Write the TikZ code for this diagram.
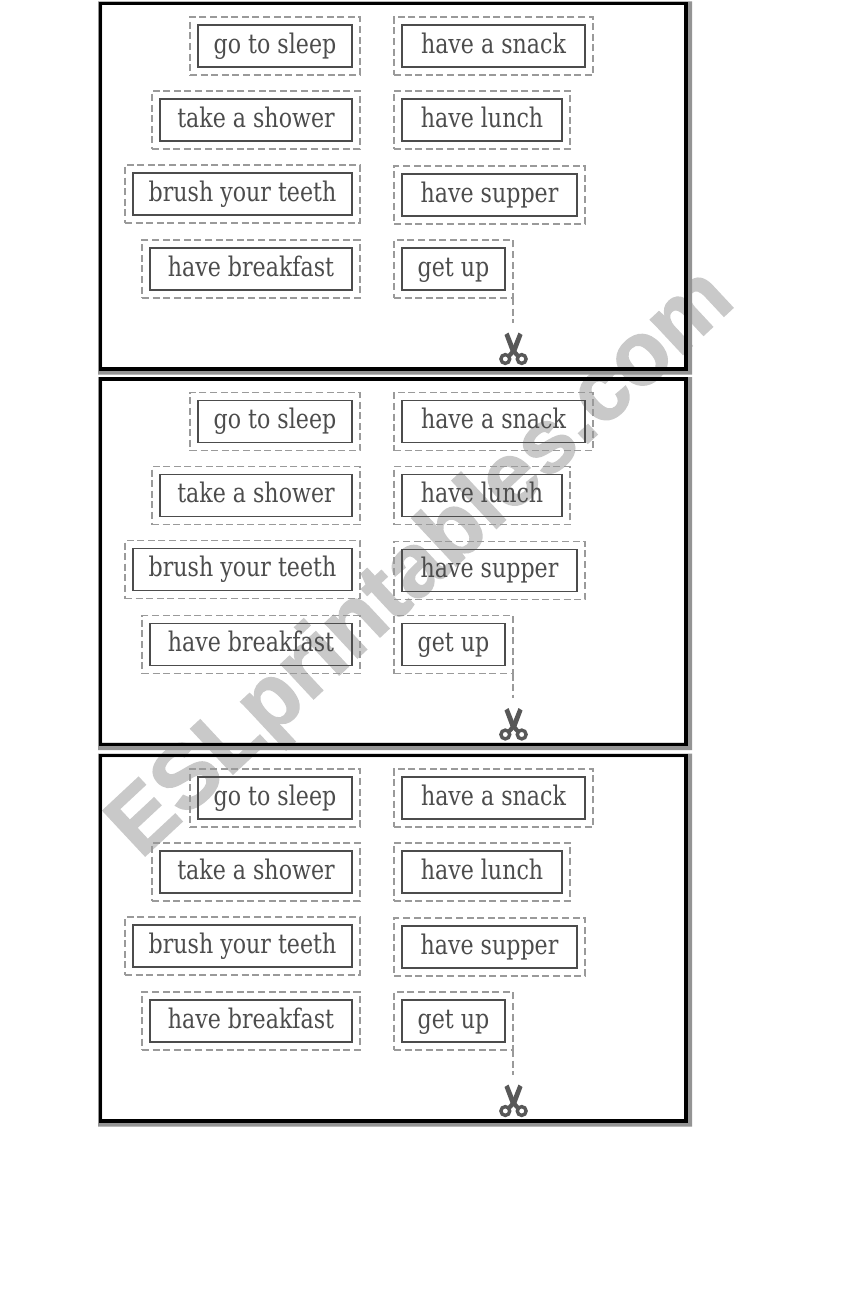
\documentclass[tikz,border=0pt]{standalone}
\usepackage{fontspec}
\setmainfont{DejaVu Serif}[FakeStretch=0.82]
\newfontfamily\wmfont{Liberation Sans Bold}[FakeBold=1.6]
\definecolor{ink}{HTML}{4C4C4C}
\definecolor{dashcol}{HTML}{9A9A9A}
\definecolor{wmark}{HTML}{C9C9C9}
\definecolor{scis}{HTML}{585858}
\tikzset{
  x=1pt,y=-1pt,
  framebox/.style={draw=black,line width=3.7pt},
  framehalo/.style={fill=black!42,even odd rule},
  cardbox/.style={draw=ink,line width=1.8pt,minimum height=42pt,inner sep=0pt,text=ink,font=\fontsize{27}{30}\selectfont,anchor=center},
  cutbox/.style={draw=dashcol,line width=1.6pt,dash pattern=on 7pt off 3.6pt,inner sep=0pt,outer sep=0pt,minimum height=58pt,anchor=center},
  cutline/.style={draw=dashcol,line width=1.6pt,dash pattern=on 7pt off 3.6pt},
  wmtext/.style={text=wmark,font=\wmfont\fontsize{90}{90}\selectfont,inner sep=0pt},
  scisblade/.style={fill=scis},
  scisring/.style={draw=scis,line width=3.4pt},
}
\newcommand{\cardpair}[5]{%
  \node[cutbox,minimum width={#3-#2+14pt}] (#1c) at ({(#2+#3)/2},{#4}) {};
  \node[cardbox,minimum width={#3-#2-2pt}] (#1) at ({(#2+#3)/2},{#4}) {\raisebox{-1pt}{\vphantom{hp}#5}};
}
\begin{document}
\begin{tikzpicture}
\useasboundingbox (0,0) rectangle (850,1300);
\fill[white] (0,0) rectangle (850,1300);
\node[wmtext,rotate=43] (wm) at (423,565) {ESLprintables.com};
\foreach \n/\dy in {a/0,b/375.5,c/752}{
  \begin{scope}[yshift={-\dy pt}]
    \coordinate (\n tl) at (100.5,3.5);
    \coordinate (\n br) at (686,369);
    \path[framehalo] (98,1.5) rectangle (692,374.5) (102,5) rectangle (684,367);
    \draw[framebox] (\n tl) rectangle (\n br);
    \cardpair{\n1}{197}{353}{46}{go to sleep}
    \cardpair{\n2}{159}{353}{120}{take a shower}
    \cardpair{\n3}{132}{353}{194}{brush your teeth}
    \cardpair{\n4}{149}{353}{269}{have breakfast}
    \cardpair{\n5}{401}{586}{46}{have a snack}
    \cardpair{\n6}{401}{563}{120}{have lunch}
    \cardpair{\n7}{401}{578}{195}{have supper}
    \cardpair{\n8}{401}{506}{269}{get up}
    \coordinate (\n e) at (\n8c.south east |- 0,322.5);
    \draw[cutline] (\n8c.south east) -- (\n e);
    \fill[scisblade] (504.5,335) -- (508.5,332.5) -- (515.5,350) -- (520,355) -- (517,358) -- (510.5,351) -- cycle;
    \fill[scisblade] (522.5,335) -- (518.5,332.5) -- (511.5,350) -- (507,355) -- (510,358) -- (516.5,351) -- cycle;
    \draw[scisring] (505.3,359) circle (4.4pt);
    \draw[scisring] (521.7,359) circle (4.4pt);
  \end{scope}
}
\end{tikzpicture}
\end{document}
